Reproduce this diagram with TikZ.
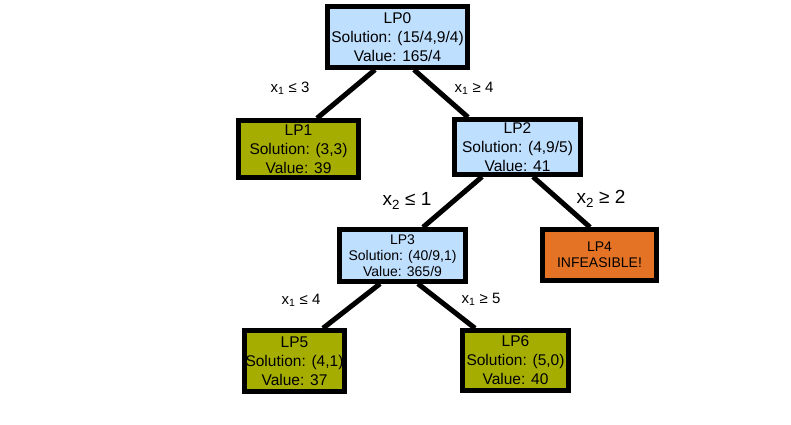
\documentclass[tikz,border=0pt]{standalone}
\usepackage{fontspec}
\setmainfont{Liberation Sans}
\usepackage{tikz}
\definecolor{lpblue}{HTML}{BFDFFF}
\definecolor{lpolive}{HTML}{A5AD00}
\definecolor{lporange}{HTML}{E47325}
\newcommand{\xsub}[1]{x\textsubscript{#1}}

\begin{document}
\begin{tikzpicture}[x=1pt,y=-1pt,
    lpbox/.style={draw=black,line width=4.5pt,inner sep=0pt,align=center,
        font=\fontsize{15.5}{19}\selectfont},
    lpsmall/.style={font=\fontsize{14}{16}\selectfont},
    cut/.style={font=\fontsize{15}{17}\selectfont},
    bigcut/.style={font=\fontsize{19}{22}\selectfont}]
    \useasboundingbox (0,0) rectangle (791,424);

    \node[lpbox,fill=lpblue,minimum width=140,minimum height=61] (LP0) at (397.5,37)
        {LP0\\Solution: (15/4,9/4)\\Value: 165/4};
    \node[lpbox,fill=lpolive,minimum width=120,minimum height=57] (LP1) at (298.5,149)
        {LP1\\Solution: (3,3)\\Value: 39};
    \node[lpbox,fill=lpblue,minimum width=126,minimum height=55] (LP2) at (517.5,147)
        {LP2\\Solution: (4,9/5)\\Value: 41};
    \node[lpbox,lpsmall,fill=lpblue,minimum width=126,minimum height=52] (LP3) at (402.5,255.5)
        {LP3\\Solution: (40/9,1)\\Value: 365/9};
    \node[lpbox,lpsmall,fill=lporange,minimum width=114,minimum height=51] (LP4) at (599.5,255)
        {LP4\\INFEASIBLE!};
    \node[lpbox,fill=lpolive,minimum width=100,minimum height=61] (LP5) at (294.5,361)
        {LP5\\Solution: (4,1)\\Value: 37};
    \node[lpbox,fill=lpolive,minimum width=106,minimum height=60] (LP6) at (515.5,360.5)
        {LP6\\Solution: (5,0)\\Value: 40};

    % branching
    \path[every edge/.style={draw,line width=5pt}]
    ([xshift=-22.5]LP0.south) edge ([xshift=18.5]LP1.north)
    ([xshift=16.5]LP0.south) edge ([xshift=-49.5]LP2.north)
    ([xshift=-35.5]LP2.south) edge ([xshift=20.5]LP3.north)
    ([xshift=15.5]LP2.south) edge ([xshift=-9.5]LP4.north)
    ([xshift=-22.5]LP3.south) edge ([xshift=28.5]LP5.north)
    ([xshift=15.5]LP3.south) edge ([xshift=-40.5]LP6.north);

    \node[cut] (c1) at (290,88) {\xsub{1} ≤ 3};
    \node[cut] (c2) at (474,88) {\xsub{1} ≥ 4};
    \node[bigcut] (c3) at (407,201) {\xsub{2} ≤ 1};
    \node[bigcut] (c4) at (601,199) {\xsub{2} ≥ 2};
    \node[cut] (c5) at (301,300) {\xsub{1} ≤ 4};
    \node[cut] (c6) at (481,299) {\xsub{1} ≥ 5};
\end{tikzpicture}
\end{document}
